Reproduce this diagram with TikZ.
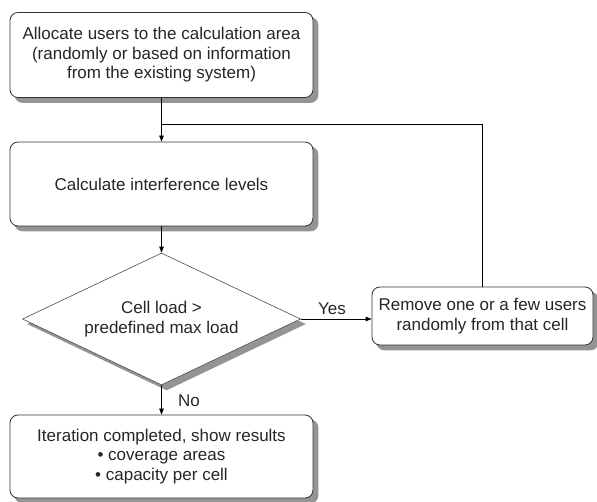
\documentclass[tikz,border=0pt]{standalone}
\usepackage{fontspec}
\setmainfont{Liberation Sans}
\usetikzlibrary{shapes.geometric,arrows.meta,backgrounds}
\begin{document}
\begin{tikzpicture}[x=1pt,y=-1pt,
  shadowfill/.style={fill=black!42},
  txt/.style={font=\fontsize{17}{19.5}\selectfont, text=black!85, align=center},
  box/.style={txt, draw=black!80, line width=0.8pt, fill=white, rounded corners=8pt, inner sep=0pt},
  dec/.style={txt, shape=diamond, aspect=2.1, draw=black!70, line width=0.6pt, fill=white, inner sep=0pt, minimum width=278pt, minimum height=132pt},
  conn/.style={draw=black, line width=0.8pt},
  arr/.style={conn, -{Triangle[length=6pt,width=4.5pt]}},
  lbl/.style={font=\fontsize{17}{19.5}\selectfont, text=black!85, inner sep=0pt}
]
\useasboundingbox (0,0) rectangle (597,502);

\node[box, minimum width=303pt, minimum height=85pt] (alloc) at (161.5,55)
  {Allocate users to the calculation area\\(randomly or based on information\\from the existing system)};
\node[box, minimum width=303pt, minimum height=84pt] (calc) at (161.5,184)
  {Calculate interference levels};
\node[dec] (dec) at (161.5,319) {Cell load \textgreater\\predefined max load};
\node[box, minimum width=221pt, minimum height=58pt] (rm) at (482.5,316)
  {Remove one or a few users\\randomly from that cell};
\node[box, minimum width=303pt, minimum height=83pt] (done) at (161.5,456.5)
  {Iteration completed, show results\\• coverage areas\\• capacity per cell};

\begin{scope}[on background layer]
  \foreach \n in {alloc,calc,rm,done}
    \fill[shadowfill, rounded corners=8pt] ([shift={(5,5)}]\n.north west) rectangle ([shift={(5,5)}]\n.south east);
  \fill[shadowfill] ([shift={(5,5)}]dec.north) -- ([shift={(5,5)}]dec.east) -- ([shift={(5,5)}]dec.south) -- ([shift={(5,5)}]dec.west) -- cycle;
\end{scope}

\coordinate (j) at (161.5,124);

\draw[arr] (alloc.south) -- (calc.north);
\draw[conn] (rm.north) |- (j);
\draw[arr] (calc.south) -- (dec.north);
\draw[arr] (dec.east) -- (rm.west |- dec.east);
\draw[arr] (dec.south) -- (done.north);

\node[lbl] (yes) at (332,309) {Yes};
\node[lbl] (no) at (189,401) {No};
\end{tikzpicture}
\end{document}
